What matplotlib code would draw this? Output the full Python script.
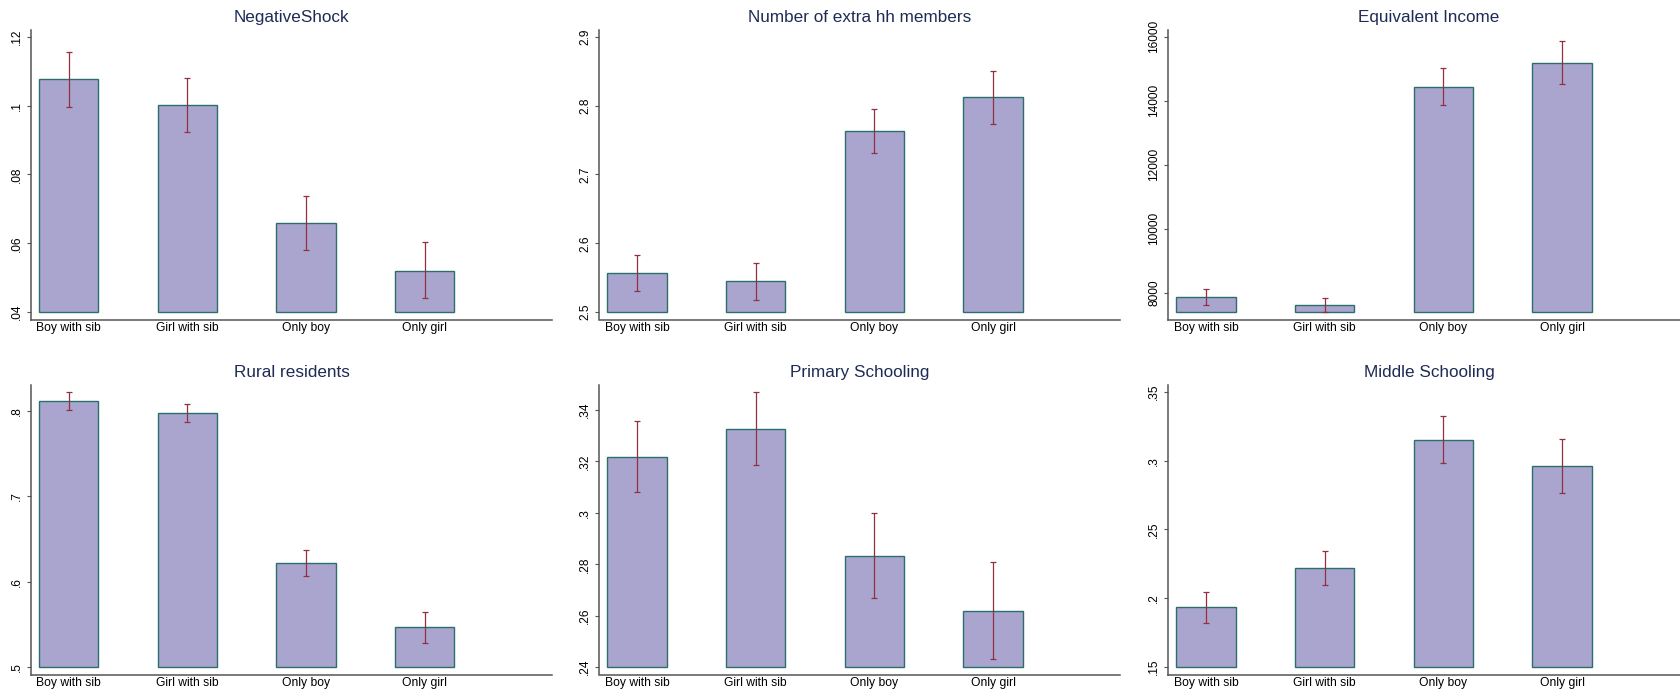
import matplotlib
matplotlib.use("Agg")
import matplotlib.pyplot as plt
import numpy as np

plt.rcParams['font.family'] = ['Liberation Sans', 'DejaVu Sans']

categories = ["Boy with sib", "Girl with sib", "Only boy", "Only girl"]

titles = ["NegativeShock", "Number of extra hh members", "Equivalent Income",
          "Rural residents", "Primary Schooling", "Middle Schooling"]

# means with lower / upper confidence bounds
shock_mean = [0.1076, 0.1001, 0.0659, 0.0521]
shock_lo = [0.0996, 0.0922, 0.0580, 0.0441]
shock_hi = [0.1156, 0.1081, 0.0736, 0.0603]

hhsize_mean = [2.5567, 2.5451, 2.7628, 2.8118]
hhsize_lo = [2.5305, 2.5184, 2.7308, 2.7739]
hhsize_hi = [2.5834, 2.5713, 2.7948, 2.8501]

income_mean = [7864, 7625, 14436, 15186]
income_lo = [7625, 7385, 13862, 14508]
income_hi = [8104, 7844, 15009, 15854]

rural_mean = [0.8113, 0.7977, 0.6224, 0.5470]
rural_lo = [0.8012, 0.7867, 0.6072, 0.5286]
rural_hi = [0.8219, 0.8086, 0.6377, 0.5650]

primary_mean = [0.3219, 0.3327, 0.2832, 0.2619]
primary_lo = [0.3083, 0.3188, 0.2668, 0.2430]
primary_hi = [0.3358, 0.3469, 0.2999, 0.2809]

middle_mean = [0.1934, 0.2223, 0.3153, 0.2959]
middle_lo = [0.1818, 0.2099, 0.2981, 0.2764]
middle_hi = [0.2049, 0.2347, 0.3323, 0.3158]

# y-axis ranges and ticks
ranges = [(0.04, 0.12), (2.5, 2.9), (7385, 16000),
          (0.5, 0.8227), (0.24, 0.3471), (0.15, 0.35)]
ticks = [[0.04, 0.06, 0.08, 0.10, 0.12],
         [2.5, 2.6, 2.7, 2.8, 2.9],
         [8000, 10000, 12000, 14000, 16000],
         [0.5, 0.6, 0.7, 0.8],
         [0.24, 0.26, 0.28, 0.30, 0.32, 0.34],
         [0.15, 0.20, 0.25, 0.30, 0.35]]
tick_labels = [[".04", ".06", ".08", ".1", ".12"],
               ["2.5", "2.6", "2.7", "2.8", "2.9"],
               ["8000", "10000", "12000", "14000", "16000"],
               [".5", ".6", ".7", ".8"],
               [".24", ".26", ".28", ".3", ".32", ".34"],
               [".15", ".2", ".25", ".3", ".35"]]

series = [(shock_mean, shock_lo, shock_hi),
          (hhsize_mean, hhsize_lo, hhsize_hi),
          (income_mean, income_lo, income_hi),
          (rural_mean, rural_lo, rural_hi),
          (primary_mean, primary_lo, primary_hi),
          (middle_mean, middle_lo, middle_hi)]

BAR_FILL = "#a9a5cf"
BAR_EDGE = "#2c6e6c"
ERR_COLOR = "#923040"
TITLE_COLOR = "#1e2b55"
AXIS_COLOR = "#555555"

W, H = 1681, 694
fig = plt.figure(figsize=(W / 100, H / 100), dpi=100)

lefts = [31, 599.5, 1168.5]
tops = [30, 385]
ax_w = 521
ax_h = 289.5

x = np.arange(len(categories))

for i, (title, (mean, lo, hi), (ymin, ymax), tk, tl) in enumerate(
        zip(titles, series, ranges, ticks, tick_labels)):
    row, col = divmod(i, 3)
    left = lefts[col]
    top = tops[row]
    ax = fig.add_axes([left / W, 1 - (top + ax_h) / H, ax_w / W, ax_h / H])

    mean = np.array(mean)
    lo = np.array(lo)
    hi = np.array(hi)
    ax.bar(x, mean - ymin, bottom=ymin, width=0.5, color=BAR_FILL,
           edgecolor=BAR_EDGE, linewidth=1.0, zorder=2)
    ax.errorbar(x, mean, yerr=[mean - lo, hi - mean], fmt="none",
                ecolor=ERR_COLOR, elinewidth=0.9, capsize=2.3,
                capthick=0.9, zorder=3)

    span = ymax - ymin
    ax.set_ylim(ymin - 7.3 / 275 * span, ymax + 6.7 / 275 * span)
    ax.set_xlim(-0.316, 4.073)

    ax.set_yticks(tk)
    ax.set_yticklabels(tl, rotation=90, va="center", fontsize=8.6)
    ax.set_xticks(x)
    ax.set_xticklabels(categories, fontsize=8.7)
    ax.tick_params(axis="x", length=0, pad=2)
    ax.tick_params(axis="y", length=3.2, width=0.8, color=AXIS_COLOR,
                   pad=2.8, direction="out")

    for side in ("top", "right"):
        ax.spines[side].set_visible(False)
    for side in ("left", "bottom"):
        ax.spines[side].set_color(AXIS_COLOR)
        ax.spines[side].set_linewidth(1.1)

    ax.text(0.5, 1 + 12.5 / ax_h, title, transform=ax.transAxes,
            ha="center", va="center", fontsize=12.3, color=TITLE_COLOR)

fig.savefig("out.png", dpi=100)
